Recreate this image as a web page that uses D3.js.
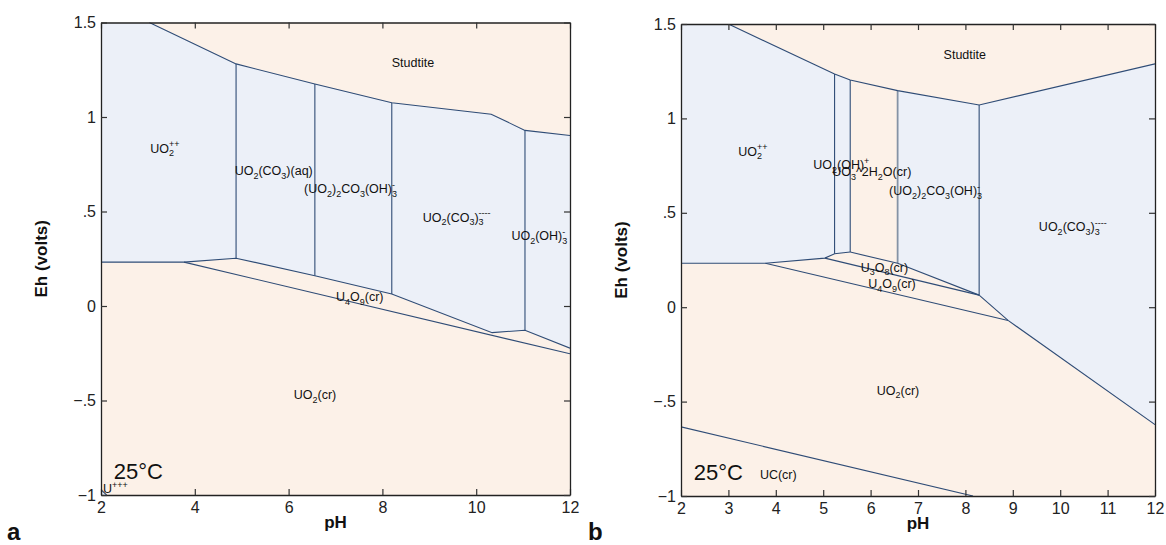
<!DOCTYPE html>
<html><head><meta charset="utf-8">
<script src="https://cdn.jsdelivr.net/npm/d3@7"></script>
<style>
body{margin:0;background:#fff;}
svg{display:block;font-family:"Liberation Sans",Arial,Helvetica,sans-serif;}
</style>
</head><body>
<svg id="c" width="1166" height="545"></svg>
<script>
// ---------- data ----------
const leftXTicks = [2,4,6,8,10,12];
const rightXTicks = [2,3,4,5,6,7,8,9,10,11,12];
const yTicks = [1.5,1,0.5,0,-0.5,-1];
const yTickLabels = ["1.5","1",".5","0","\u2212.5","\u22121"];

// panel a: aqueous (blue) fields, [pH, Eh] vertices
const aFields = [
  [[2,1.5],[3.03,1.5],[4.88,1.281],[4.88,0.253],[3.77,0.232],[2,0.232]],
  [[4.88,1.281],[6.56,1.175],[6.56,0.160],[4.88,0.253]],
  [[6.56,1.175],[8.2,1.075],[8.2,0.064],[6.56,0.160]],
  [[8.2,1.075],[10.32,1.015],[11.04,0.929],[11.04,-0.128],[10.34,-0.141],[8.2,0.064]],
  [[11.04,0.929],[12,0.902],[12,-0.223],[11.04,-0.128]],
  [[2,-1],[2,-0.972],[2.12,-1]]
];
const aLines = [
  [[3.03,1.5],[4.88,1.281],[6.56,1.175],[8.2,1.075],[10.32,1.015],[11.04,0.929],[12,0.902]],
  [[4.88,1.281],[4.88,0.253]],
  [[6.56,1.175],[6.56,0.160]],
  [[8.2,1.075],[8.2,0.064]],
  [[11.04,0.929],[11.04,-0.128]],
  [[2,0.232],[3.77,0.232],[4.88,0.253],[6.56,0.160],[8.2,0.064],[10.34,-0.141],[11.04,-0.128],[12,-0.223]],
  [[3.77,0.232],[12,-0.253]],
  [[2,-0.972],[2.12,-1]]
];
const aLabels = [
  {pH:3.05, Eh:0.812, t:["UO",{b:"2",p:"++"}]},
  {pH:4.85, Eh:0.693, t:["UO",{b:"2"},"(CO",{b:"3"},")(aq)"]},
  {pH:6.33, Eh:0.598, t:["(UO",{b:"2"},")",{b:"2"},"CO",{b:"3"},"(OH)",{b:"3",p:"-"}]},
  {pH:8.86, Eh:0.446, t:["UO",{b:"2"},"(CO",{b:"3"},")",{b:"3",p:"----"}]},
  {pH:10.75, Eh:0.349, t:["UO",{b:"2"},"(OH)",{b:"3",p:"-"}]},
  {pH:8.2, Eh:1.266, t:["Studtite"]},
  {pH:7.01, Eh:0.025, t:["U",{b:"4"},"O",{b:"9"},"(cr)"]},
  {pH:6.11, Eh:-0.492, t:["UO",{b:"2"},"(cr)"]},
  {pH:2.04, Eh:-0.99, t:["U",{p:"+++"}]}
];

// panel b
const bFields = [
  [[2,1.5],[3.0,1.5],[5.24,1.235],[5.24,0.283],[5.035,0.260],[3.78,0.233],[2,0.233]],
  [[5.24,1.235],[5.57,1.203],[5.57,0.292],[5.24,0.283]],
  [[6.57,1.147],[8.29,1.071],[8.29,0.064],[6.57,0.233]],
  [[8.29,1.071],[12,1.289],[12,-0.622],[8.9,-0.07],[8.29,0.064]]
];
const bLines = [
  [[3.0,1.5],[5.24,1.235],[5.57,1.203],[6.57,1.147],[8.29,1.071],[12,1.289]],
  [[5.24,1.235],[5.24,0.283]],
  [[5.57,1.203],[5.57,0.292]],
  [[8.29,1.071],[8.29,0.064]],
  [[2,0.233],[3.78,0.233],[5.035,0.260],[5.24,0.283],[5.57,0.292]],
  [[5.57,0.292],[6.57,0.233],[8.29,0.064]],
  [[5.035,0.260],[8.29,0.064]],
  [[3.78,0.233],[8.9,-0.07]],
  [[8.29,0.064],[8.9,-0.07],[12,-0.622]],
  [[2,-0.634],[8.16,-1.0]]
];
const bGrayLines = [
  [[6.57,1.147],[6.57,0.233]]
];
const bLabels = [
  {pH:3.21, Eh:0.803, t:["UO",{b:"2",p:"++"}]},
  {pH:4.79, Eh:0.731, t:["UO",{b:"2"},"(OH)",{p:"+"}]},
  {pH:5.19, Eh:0.696, t:["UO",{b:"3"},"^2H",{b:"2"},"O(cr)"]},
  {pH:6.39, Eh:0.595, t:["(UO",{b:"2"},")",{b:"2"},"CO",{b:"3"},"(OH)",{b:"3",p:"-"}]},
  {pH:7.54, Eh:1.315, t:["Studtite"]},
  {pH:5.79, Eh:0.189, t:["U",{b:"3"},"O",{b:"8"},"(cr)"]},
  {pH:5.95, Eh:0.102, t:["U",{b:"4"},"O",{b:"9"},"(cr)"]},
  {pH:9.55, Eh:0.403, t:["UO",{b:"2"},"(CO",{b:"3"},")",{b:"3",p:"----"}]},
  {pH:6.13, Eh:-0.463, t:["UO",{b:"2"},"(cr)"]},
  {pH:3.665, Eh:-0.908, t:["UC(cr)"]}
];
const tempLabel = "25\u00B0C";
const tempPos = [[2.27,-0.915],[2.27,-0.917]];

// ---------- drawing ----------
const svg = d3.select("#c");
const BLUE = "#ECF0F8", BEIGE = "#FCF1E8", LINE = "#2F4C76", GRAY = "#8593A5";

function rich(g, x, y, parts, size){
  let cx = x;
  parts.forEach(p => {
    if (typeof p === "string"){
      const t = g.append("text").attr("x",cx).attr("y",y).attr("font-size",size).text(p);
      cx += t.node().getComputedTextLength();
    } else {
      let w = 0;
      const s = size*0.72;
      if (p.b){
        const t = g.append("text").attr("x",cx).attr("y",y+size*0.3).attr("font-size",s).text(p.b);
        w = Math.max(w, t.node().getComputedTextLength());
      }
      if (p.p){
        const t = g.append("text").attr("x",cx).attr("y",y-size*0.42).attr("font-size",s).text(p.p);
        w = Math.max(w, t.node().getComputedTextLength());
      }
      cx += w;
    }
  });
}

function panel(opt){
  const x = d3.scaleLinear().domain([2,12]).range([opt.x0,opt.x1]);
  const y = d3.scaleLinear().domain([-1,1.5]).range([opt.y1,opt.y0]);
  const g = svg.append("g");
  const cid = "clip"+opt.id;
  svg.append("clipPath").attr("id",cid).append("rect")
    .attr("x",opt.x0).attr("y",opt.y0).attr("width",opt.x1-opt.x0).attr("height",opt.y1-opt.y0);
  const plot = g.append("g").attr("clip-path",`url(#${cid})`);
  plot.append("rect").attr("x",opt.x0).attr("y",opt.y0)
    .attr("width",opt.x1-opt.x0).attr("height",opt.y1-opt.y0).attr("fill",BEIGE);
  const line = d3.line().x(d=>x(d[0])).y(d=>y(d[1]));
  plot.selectAll("path.f").data(opt.fields).join("path")
    .attr("d",d=>line(d)+"Z").attr("fill",BLUE).attr("stroke","none");
  plot.selectAll("path.g").data(opt.gray||[]).join("path")
    .attr("d",d=>line(d)).attr("fill","none").attr("stroke",GRAY).attr("stroke-width",1.8);
  plot.selectAll("path.l").data(opt.lines).join("path")
    .attr("d",d=>line(d)).attr("fill","none").attr("stroke",LINE).attr("stroke-width",1.1);

  const lg = g.append("g").attr("fill","#111");
  opt.labels.forEach(l => rich(lg, x(l.pH), y(l.Eh), l.t, 12.5));
  g.append("text").attr("x",x(opt.temp[0])).attr("y",y(opt.temp[1]))
    .attr("font-size",22).attr("fill","#111").text(tempLabel);

  // axes
  const ax = (sel)=>{ sel.selectAll(".domain").attr("stroke","#222").attr("stroke-width",1.3);
    sel.selectAll(".tick line").attr("stroke","#333").attr("stroke-width",1.2);
    sel.selectAll("text").attr("font-size",16).attr("fill","#222")
      .style("font-family",'"Liberation Sans",Arial,sans-serif'); };
  g.append("g").attr("transform",`translate(0,${opt.y1})`)
    .call(d3.axisBottom(x).tickValues(opt.xt).tickFormat(d3.format("d")).tickSize(-6).tickSizeOuter(0).tickPadding(7)).call(ax);
  g.append("g").attr("transform",`translate(0,${opt.y0})`)
    .call(d3.axisTop(x).tickValues(opt.xt).tickFormat("").tickSize(-6).tickSizeOuter(0)).call(ax);
  g.append("g").attr("transform",`translate(${opt.x0},0)`)
    .call(d3.axisLeft(y).tickValues(yTicks).tickFormat((d,i)=>yTickLabels[i]).tickSize(-6).tickSizeOuter(0).tickPadding(5)).call(ax);
  g.append("g").attr("transform",`translate(${opt.x1},0)`)
    .call(d3.axisRight(y).tickValues(yTicks).tickFormat("").tickSize(-6).tickSizeOuter(0)).call(ax);

  g.append("text").attr("x",(opt.x0+opt.x1)/2).attr("y",opt.y1+33)
    .attr("text-anchor","middle").attr("font-size",17).attr("font-weight","bold").attr("fill","#111").text("pH");
  g.append("text").attr("transform",`translate(${opt.x0-54},${(opt.y0+opt.y1)/2}) rotate(-90)`)
    .attr("text-anchor","middle").attr("font-size",17).attr("font-weight","bold").attr("fill","#111").text("Eh (volts)");
  g.append("text").attr("x",opt.tagX).attr("y",540).attr("font-size",24).attr("font-weight","bold")
    .attr("fill","#111").text(opt.tag);
}

panel({id:"a", x0:101, x1:570, y0:22.5, y1:495, xt:leftXTicks, fields:aFields, lines:aLines,
  labels:aLabels, temp:tempPos[0], tag:"a", tagX:7});
panel({id:"b", x0:681, x1:1155, y0:24, y1:496, xt:rightXTicks, fields:bFields, lines:bLines, gray:bGrayLines,
  labels:bLabels, temp:tempPos[1], tag:"b", tagX:588});
</script>
</body></html>
